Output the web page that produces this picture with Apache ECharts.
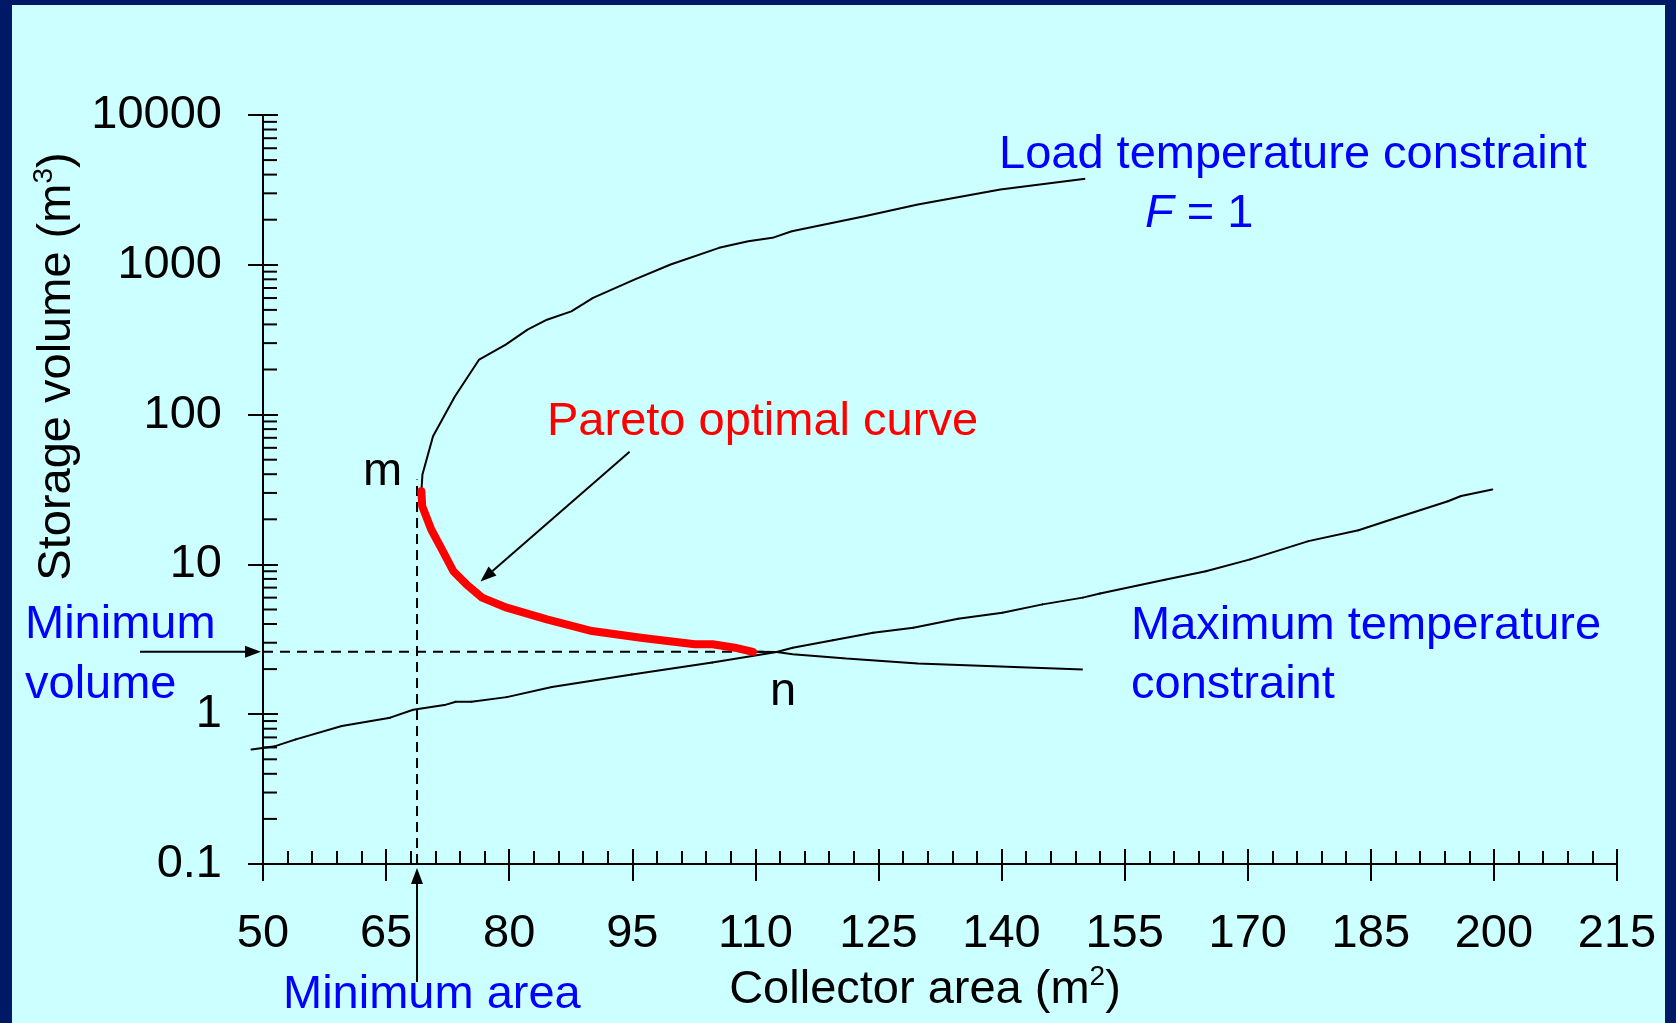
<!DOCTYPE html>
<html>
<head>
<meta charset="utf-8">
<script src="https://cdn.jsdelivr.net/npm/echarts@6/dist/echarts.min.js"></script>
<style>
html,body{margin:0;padding:0;background:#CCFFFF;}
#chart{width:1676px;height:1023px;}
</style>
</head>
<body>
<div id="chart"></div>
<script>
// ---------- data ----------
// Load temperature constraint, F = 1
const loadArea   = [69.3, 69.43, 70.72, 73.38, 76.34, 79.58, 82.24, 84.6, 87.57, 90.22, 95.25, 99.67, 105.58, 109.13, 112.08, 114.44, 123.3, 129.8, 139.86, 150.2];
const loadVolume = [30.8, 39.8, 71.6, 132, 233, 293, 369, 430, 489, 602, 797, 1004, 1298, 1437, 1513, 1675, 2109, 2523, 3177, 3748];

// Maximum temperature constraint, rising branch
const risingArea   = [48.6, 51.5, 54.0, 59.6, 65.5, 68.3, 72.1, 73.5, 75.4, 79.7, 85.2, 94.95, 104.75, 112.6, 114.55, 119.45, 124.35, 129.25, 134.7, 140.1, 145.0, 149.9, 152.0, 159.9, 164.9, 170.3, 177.4, 183.5, 187.3, 194.4, 196.0, 199.8];
const risingVolume = [0.582, 0.612, 0.679, 0.834, 0.948, 1.07, 1.15, 1.21, 1.21, 1.30, 1.52, 1.84, 2.21, 2.6, 2.78, 3.12, 3.50, 3.78, 4.34, 4.76, 5.41, 6.0, 6.4, 7.9, 9.0, 10.8, 14.3, 16.9, 19.8, 26.4, 28.6, 31.6];

// Maximum temperature constraint, flat branch (beyond n)
const flatArea   = [109.7, 112.6, 114.55, 121.1, 129.8, 149.9];
const flatVolume = [2.61, 2.6, 2.51, 2.35, 2.18, 1.99];

// Pareto optimal curve (m -> n)
const paretoArea   = [69.3, 69.4, 70.5, 71.8, 73.2, 74.8, 76.7, 79.7, 84.6, 90.1, 96.05, 102.6, 104.8, 107.5, 109.7];
const paretoVolume = [30.8, 24.5, 17.1, 12.6, 9.0, 7.35, 6.0, 5.14, 4.29, 3.59, 3.24, 2.93, 2.93, 2.78, 2.61];

// Minimum volume / minimum area guide lines
const minVolume = 2.61;
const minVolumeEndArea = 111;
const minArea = 68.77;
const minAreaTopVolume = 36.9;

// Axes
const xMin = 50, xMax = 215, xStep = 15;
const yTickLabels = ['0.1', '1', '10', '100', '1000', '10000'];
const yDecades = [0.1, 1, 10, 100, 1000];
const yMinorMultipliers = [2, 3, 4, 5, 6, 7, 8, 9];

// ---------- chart ----------
const zip = (a, b) => a.map((v, i) => [v, b[i]]);
const yMinorTicks = [];
yDecades.forEach(d => yMinorMultipliers.forEach(m => yMinorTicks.push([xMin, +(d * m).toPrecision(3)])));

const FONT = '"Liberation Sans", Arial, sans-serif';
const FS = 47;
const black = '#000000';
const blue = '#0000FF';
const red = '#FF0000';

const chart = echarts.init(document.getElementById('chart'), null, {renderer: 'canvas'});

const baseX = {
  type: 'value', min: xMin, max: xMax, interval: xStep,
  splitLine: {show: false}
};
const baseY = {
  type: 'log', logBase: 10, min: 0.1, max: 10000,
  splitLine: {show: false}
};

const option = {
  backgroundColor: '#CCFFFF',
  animation: false,
  grid: {left: 263, right: 59, top: 115, bottom: 159, containLabel: false},
  xAxis: [
    Object.assign({}, baseX, {
      position: 'bottom',
      axisLine: {show: true, onZero: false, lineStyle: {color: black, width: 2}},
      axisTick: {show: true, inside: false, length: 17, lineStyle: {color: black, width: 2}},
      axisLabel: {color: black, fontFamily: FONT, fontSize: FS, margin: 47},
      name: 'Collector area (m{sup|2})',
      nameLocation: 'middle',
      nameGap: 98,
      nameTextStyle: {
        color: black, fontFamily: FONT, fontSize: FS, padding: [0, 30, 0, 0],
        rich: {sup: {fontSize: 28, fontFamily: FONT, color: black, padding: [0, 0, 26, 0]}}
      }
    }),
    Object.assign({}, baseX, {
      position: 'bottom',
      axisLine: {show: false, onZero: false},
      axisTick: {show: true, inside: true, length: 15, lineStyle: {color: black, width: 2}},
      minorTick: {show: true, splitNumber: 5, length: 13, lineStyle: {color: black, width: 2}},
      axisLabel: {show: false}
    })
  ],
  yAxis: [
    Object.assign({}, baseY, {
      position: 'left',
      axisLine: {show: true, onZero: false, lineStyle: {color: black, width: 2}},
      axisTick: {show: true, inside: false, length: 15, lineStyle: {color: black, width: 2}},
      axisLabel: {color: black, fontFamily: FONT, fontSize: FS, margin: 41,
        formatter: (v, i) => yTickLabels[i]},
      name: 'Storage volume (m{sup|3})',
      nameLocation: 'middle',
      nameRotate: 90,
      nameGap: 166,
      nameTextStyle: {
        color: black, fontFamily: FONT, fontSize: FS, padding: [0, 0, 0, 246],
        rich: {sup: {fontSize: 28, fontFamily: FONT, color: black, padding: [0, 0, 26, 0]}}
      }
    }),
    Object.assign({}, baseY, {
      position: 'left',
      axisLine: {show: false, onZero: false},
      axisTick: {show: true, inside: true, length: 15, lineStyle: {color: black, width: 2}},
      axisLabel: {show: false}
    })
  ],
  series: [
    {
      name: 'Load temperature constraint', type: 'line', data: zip(loadArea, loadVolume),
      showSymbol: false, symbol: 'none', smooth: false,
      lineStyle: {color: black, width: 2}, z: 3
    },
    {
      // drawn segment by segment so the first point (left of the y axis) is kept
      name: 'Maximum temperature constraint', type: 'custom', data: zip(risingArea, risingVolume),
      clip: false, silent: true, z: 3,
      renderItem: (params, api) => {
        const i = params.dataIndex;
        if (i >= risingArea.length - 1) return null;
        const a = api.coord([risingArea[i], risingVolume[i]]);
        const b = api.coord([risingArea[i + 1], risingVolume[i + 1]]);
        return {type: 'line', shape: {x1: a[0], y1: a[1], x2: b[0], y2: b[1]},
          style: {stroke: black, lineWidth: 2, lineCap: 'round'}};
      }
    },
    {
      name: 'Maximum temperature constraint (flat)', type: 'line', data: zip(flatArea, flatVolume),
      showSymbol: false, symbol: 'none',
      lineStyle: {color: black, width: 2}, z: 3
    },
    {
      name: 'Minimum volume', type: 'line', data: [[xMin, minVolume], [minVolumeEndArea, minVolume]],
      showSymbol: false, symbol: 'none',
      lineStyle: {color: black, width: 2, type: [10, 7]}, z: 2
    },
    {
      name: 'Minimum area', type: 'line', data: [[minArea, 0.1], [minArea, minAreaTopVolume]],
      showSymbol: false, symbol: 'none',
      lineStyle: {color: black, width: 2, type: [10, 6]}, z: 2
    },
    {
      name: 'Pareto optimal curve', type: 'line', data: zip(paretoArea, paretoVolume),
      showSymbol: false, symbol: 'none',
      lineStyle: {color: red, width: 8, cap: 'round', join: 'round'}, z: 5
    },
    {
      name: 'y minor ticks', type: 'custom', data: yMinorTicks, clip: false, silent: true, z: 4,
      renderItem: (params, api) => {
        const p = api.coord([api.value(0), api.value(1)]);
        return {type: 'line', shape: {x1: p[0], y1: p[1], x2: p[0] + 14, y2: p[1]},
          style: {stroke: black, lineWidth: 2}};
      }
    }
  ]
};
chart.setOption(option);

// ---------- annotations ----------
const px = (x, y) => chart.convertToPixel({xAxisIndex: 0, yAxisIndex: 0}, [x, y]);

function txt(text, x, baseline, color, extra) {
  return Object.assign({
    type: 'text', z: 10,
    style: {text: text, x: x, y: baseline - 13, fill: color, font: FS + 'px ' + FONT,
      align: 'left', verticalAlign: 'middle'}
  }, extra || {});
}
function arrow(x1, y1, x2, y2, head, half) {
  const a = Math.atan2(y2 - y1, x2 - x1);
  const bx = x2 - head * Math.cos(a), by = y2 - head * Math.sin(a);
  const nx = -Math.sin(a) * half, ny = Math.cos(a) * half;
  return [
    {type: 'line', z: 10, shape: {x1: x1, y1: y1, x2: bx, y2: by}, style: {stroke: black, lineWidth: 2}},
    {type: 'polygon', z: 10, shape: {points: [[x2, y2], [bx + nx, by + ny], [bx - nx, by - ny]]}, style: {fill: black}}
  ];
}

const pMinVol = px(xMin, minVolume);
const pMinArea = px(minArea, 0.1);
const pParetoTip = px(76.5, 7.7);

const graphics = [
  // dark frame
  {type: 'rect', z: 20, shape: {x: 0, y: 0, width: 12, height: 1023}, style: {fill: '#001866'}},
  {type: 'rect', z: 20, shape: {x: 0, y: 0, width: 1676, height: 5}, style: {fill: '#001866'}},
  {type: 'rect', z: 20, shape: {x: 1665, y: 0, width: 11, height: 1023}, style: {fill: '#001866'}},

  txt('Load temperature constraint', 999, 168.5, blue),
  {type: 'text', z: 10, style: {
    text: '{i|F} = 1', x: 1145, y: 226.7 - 13, fill: blue, font: FS + 'px ' + FONT,
    align: 'left', verticalAlign: 'middle',
    rich: {i: {fontStyle: 'italic', fontFamily: FONT, fontSize: FS, fill: blue}}
  }},
  txt('Pareto optimal curve', 547, 435, red),
  txt('m', 363, 485, black),
  txt('n', 770, 705, black),
  txt('Maximum temperature', 1131, 639, blue),
  txt('constraint', 1131, 698.5, blue),
  txt('Minimum', 25, 638.5, blue),
  txt('volume', 25, 698, blue),
  txt('Minimum area', 283, 1008, blue)
]
  .concat(arrow(140, pMinVol[1], pMinVol[0] - 2, pMinVol[1], 16, 6))
  .concat(arrow(pMinArea[0], 982, pMinArea[0], pMinArea[1] + 4, 16, 6))
  .concat(arrow(629.6, 451.7, pParetoTip[0], pParetoTip[1], 16, 6));

chart.setOption({graphic: graphics});
</script>
</body>
</html>
